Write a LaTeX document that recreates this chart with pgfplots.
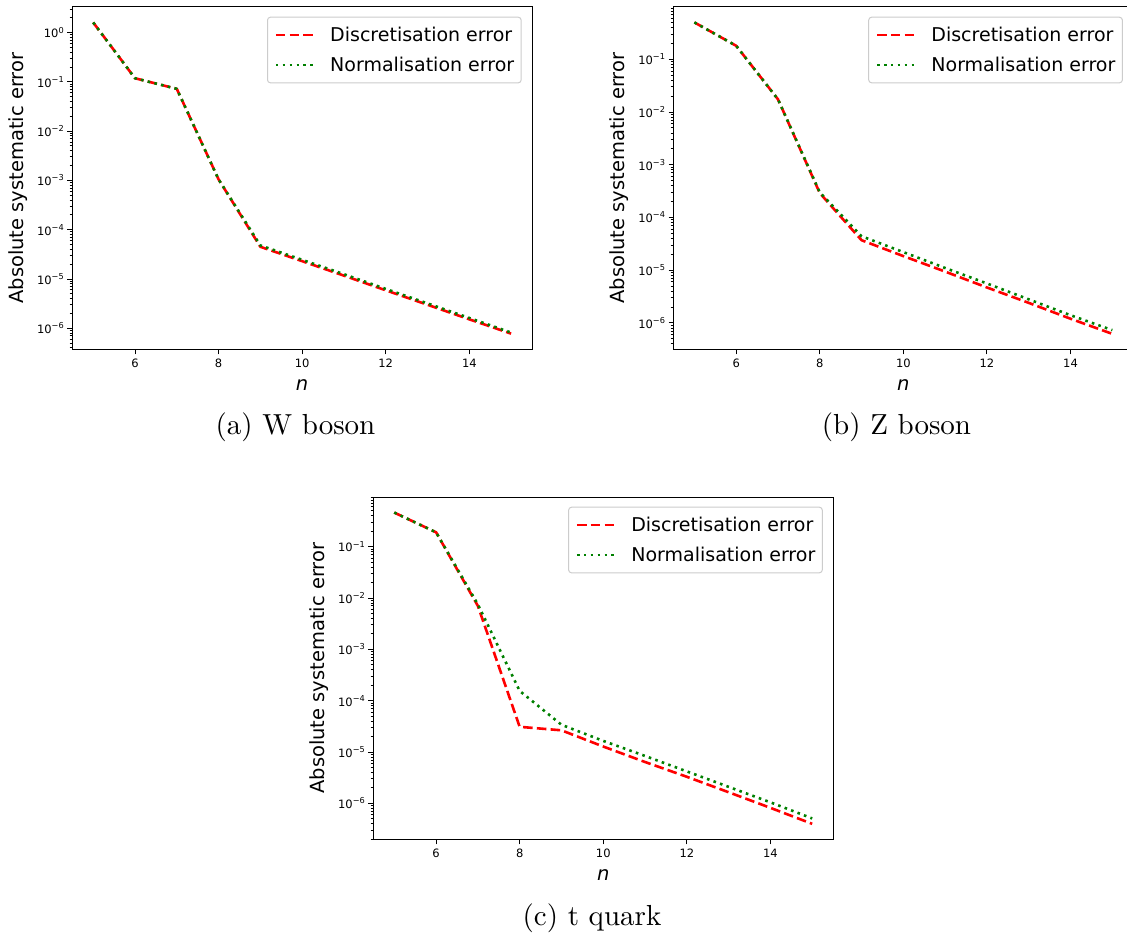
\documentclass[border=0pt]{standalone}
\usepackage{fontspec}
\usepackage{pgfplots}
\pgfplotsset{compat=1.18}
\newfontfamily\dv{DejaVu Sans}
\newfontfamily\capfont[Extension=.otf]{lmroman10-regular}
\definecolor{mplred}{RGB}{255,0,0}
\definecolor{mplgreen}{RGB}{0,128,0}
\newcommand\tl[1]{10\raisebox{0.42em}{\fontsize{8.2}{9}\selectfont #1}}
\pgfplotsset{
  myax/.style={
    scale only axis, width=459.7pt, height=342.3pt,
    xmin=4.5, xmax=15.5,
    xtick={6,8,10,12,14},
    /pgf/number format/assume math mode=true,
    tick pos=left,
    tick align=outside, major tick length=5pt, minor tick length=2.8pt,
    every tick/.style={black, line width=0.9pt},
    axis line style={line width=1pt},
    ticklabel style={font=\dv\fontsize{11.5}{13}\selectfont},
    xticklabel style={yshift=-1.5pt},
    minor ytick={2e-7,3e-7,4e-7,5e-7,6e-7,7e-7,8e-7,9e-7,
      2e-6,3e-6,4e-6,5e-6,6e-6,7e-6,8e-6,9e-6,
      2e-5,3e-5,4e-5,5e-5,6e-5,7e-5,8e-5,9e-5,
      2e-4,3e-4,4e-4,5e-4,6e-4,7e-4,8e-4,9e-4,
      2e-3,3e-3,4e-3,5e-3,6e-3,7e-3,8e-3,9e-3,
      2e-2,3e-2,4e-2,5e-2,6e-2,7e-2,8e-2,9e-2,
      2e-1,3e-1,4e-1,5e-1,6e-1,7e-1,8e-1,9e-1,2,3},
    xlabel={n},
    xlabel style={font=\dv\itshape\fontsize{19.5}{22}\selectfont, at={(axis description cs:0.5,-0.1052)}, anchor=center},
    ylabel={Absolute systematic error},
    ylabel style={font=\dv\fontsize{19.5}{22}\selectfont, at={(axis description cs:-0.1175,0.5)}, anchor=center},
    legend image code/.code={\draw[##1] (0pt,0pt) -- (37.3pt,0pt);},
    legend style={at={(axis description cs:0.9776,0.9717)}, anchor=north east,
      font=\dv\fontsize{19}{22}\selectfont, draw=black!20, line width=1pt,
      rounded corners=3pt, fill=white, inner xsep=7pt, inner ysep=9.9pt,
      row sep=14pt, column sep=15.8pt, nodes={inner sep=0pt}, cells={anchor=west}},
  },
  disc/.style={color=mplred, line width=2.6pt, dash pattern=on 9.6pt off 4.2pt, line join=round},
  norm/.style={color=mplgreen, line width=2.6pt, dash pattern=on 2.6pt off 4.3pt, line join=round},
}
\begin{document}
\begin{tikzpicture}
\useasboundingbox (0,0) rectangle (1127pt,932pt);
% (a) W boson
\begin{semilogyaxis}[myax, at={(72.3pt,582.7pt)}, anchor=south west,
  ymin=3.75e-7, ymax=3.29,
  ytick={1e-6,1e-5,1e-4,1e-3,1e-2,1e-1,1},
  yticklabels={\tl{−6},\tl{−5},\tl{−4},\tl{−3},\tl{−2},\tl{−1},\tl{0}}]
\addplot[disc] coordinates {(5,1.6) (6,0.118) (7,0.072) (8,1.05e-3) (9,4.5e-5) (10,2.3e-5) (11,1.17e-5) (12,5.9e-6) (13,3.0e-6) (14,1.52e-6) (15,7.8e-7)};
\addlegendentry{Discretisation error}
\addplot[norm] coordinates {(5,1.6) (6,0.118) (7,0.072) (8,1.05e-3) (9,4.8e-5) (10,2.45e-5) (11,1.25e-5) (12,6.3e-6) (13,3.2e-6) (14,1.62e-6) (15,8.2e-7)};
\addlegendentry{Normalisation error}
\end{semilogyaxis}
% (b) Z boson
\begin{semilogyaxis}[myax, at={(673.5pt,582.7pt)}, anchor=south west,
  ymin=3.16e-7, ymax=0.98,
  ytick={1e-6,1e-5,1e-4,1e-3,1e-2,1e-1},
  yticklabels={\tl{−6},\tl{−5},\tl{−4},\tl{−3},\tl{−2},\tl{−1}}]
\addplot[disc] coordinates {(5,0.50) (6,0.18) (7,0.0174) (8,2.9e-4) (9,3.7e-5) (10,1.85e-5) (11,9.4e-6) (12,4.7e-6) (13,2.4e-6) (14,1.2e-6) (15,6.2e-7)};
\addlegendentry{Discretisation error}
\addplot[norm] coordinates {(5,0.50) (6,0.18) (7,0.0174) (8,3.0e-4) (9,4.4e-5) (10,2.2e-5) (11,1.1e-5) (12,5.6e-6) (13,2.8e-6) (14,1.4e-6) (15,7.3e-7)};
\addlegendentry{Normalisation error}
\end{semilogyaxis}
% (c) t quark
\begin{semilogyaxis}[myax, at={(373.4pt,92.7pt)}, anchor=south west,
  ymin=2.0e-7, ymax=0.925,
  ytick={1e-6,1e-5,1e-4,1e-3,1e-2,1e-1},
  yticklabels={\tl{−6},\tl{−5},\tl{−4},\tl{−3},\tl{−2},\tl{−1}}]
\addplot[disc] coordinates {(5,0.46) (6,0.19) (7,7.0e-3) (8,3.1e-5) (9,2.65e-5) (10,1.28e-5) (11,6.4e-6) (12,3.3e-6) (13,1.65e-6) (14,8.2e-7) (15,4.0e-7)};
\addlegendentry{Discretisation error}
\addplot[norm] coordinates {(5,0.46) (6,0.19) (7,7.5e-3) (8,1.55e-4) (9,3.4e-5) (10,1.65e-5) (11,8.4e-6) (12,4.2e-6) (13,2.1e-6) (14,1.05e-6) (15,5.1e-7)};
\addlegendentry{Normalisation error}
\end{semilogyaxis}
\node[anchor=base, font=\capfont\fontsize{29}{34}\selectfont, inner sep=0pt] at (295.5pt,497pt) {(a) W boson};
\node[anchor=base, font=\capfont\fontsize{29}{34}\selectfont, inner sep=0pt] at (896.5pt,497pt) {(b) Z boson};
\node[anchor=base, font=\capfont\fontsize{29}{34}\selectfont, inner sep=0pt] at (592pt,7pt) {(c) t quark};
\end{tikzpicture}
\end{document}
